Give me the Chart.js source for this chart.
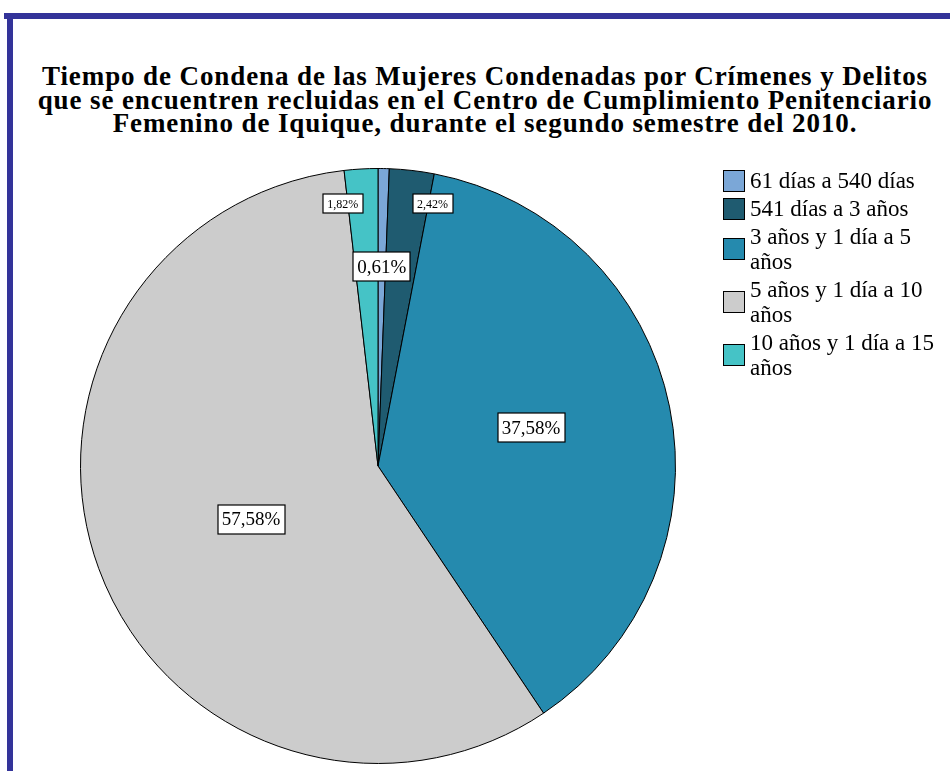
<!DOCTYPE html>
<html>
<head>
<meta charset="utf-8">
<script src="https://cdn.jsdelivr.net/npm/chart.js@4"></script>
<style>
  body { margin: 0; background: #fff; }
  #wrap { position: relative; width: 950px; height: 771px; overflow: hidden; }
  #frameTop { position: absolute; left: 4px; top: 13px; width: 946px; height: 6px; background: #333399; }
  #frameLeft { position: absolute; left: 7px; top: 13px; width: 6px; height: 758px; background: #333399; }
  #title { position: absolute; left: 0; top: 65px; width: 970px; text-align: center;
    font: bold 27px "Liberation Serif", serif; letter-spacing: 0.9px; line-height: 23.5px; color: #000; }
  #legend { position: absolute; left: 723px; top: 168px; font: 23px "Liberation Serif", serif; color: #000; }
  .item { display: flex; align-items: center; margin-bottom: 3px; }
  .box { width: 20px; height: 20px; border: 1px solid #000; flex: none; margin-right: 5px; }
  .txt { width: 190px; line-height: 25px; }
  canvas { position: absolute; left: 0; top: 0; }
</style>
</head>
<body>
<div id="wrap">
  <div id="frameTop"></div>
  <div id="frameLeft"></div>
  <div id="title">Tiempo de Condena de las Mujeres Condenadas por Crímenes y Delitos<br>que se encuentren recluidas en el Centro de Cumplimiento Penitenciario<br>Femenino de Iquique, durante el segundo semestre del 2010.</div>
  <canvas id="pie" width="950" height="771"></canvas>
  <div id="legend"></div>
</div>
<script>
// categories and counts (n = 165)
const categories = ["61 días a 540 días", "541 días a 3 años", "3 años y 1 día a 5 años", "5 años y 1 día a 10 años", "10 años y 1 día a 15 años"];
const counts = [1, 4, 62, 95, 3];
const percentLabels = ["0,61%", "2,42%", "37,58%", "57,58%", "1,82%"];
const colors = ["#7ba7d7", "#1f5b70", "#258aae", "#cccccc", "#45c3c6"];

// label placement: radial fraction, font size, pixel nudge
const labelRadius = [0.67, 0.9, 0.525, 0.462, 0.9];
const labelFont = [19, 12, 19, 19, 12];
const labelNudge = [[0, 0], [24, 4], [0, -7], [2, 6], [-20, 5]];

// legend
const legend = document.getElementById("legend");
categories.forEach((c, i) => {
  const row = document.createElement("div");
  row.className = "item";
  row.innerHTML = '<div class="box" style="background:' + colors[i] + '"></div><div class="txt">' + c + '</div>';
  legend.appendChild(row);
});

const boxLabels = {
  id: "boxLabels",
  afterDatasetsDraw(chart) {
    const ctx = chart.ctx;
    const meta = chart.getDatasetMeta(0);
    meta.data.forEach((arc, i) => {
      const p = arc.getProps(["x", "y", "startAngle", "endAngle", "outerRadius"], true);
      const mid = (p.startAngle + p.endAngle) / 2;
      const r = p.outerRadius * labelRadius[i];
      const x = p.x + Math.cos(mid) * r + labelNudge[i][0];
      const y = p.y + Math.sin(mid) * r + labelNudge[i][1];
      const fs = labelFont[i];
      ctx.save();
      ctx.font = fs + 'px "Liberation Serif", serif';
      const w = ctx.measureText(percentLabels[i]).width + (fs > 14 ? 8 : 9);
      const h = Math.round(fs * 1.55);
      ctx.fillStyle = "#fff";
      ctx.strokeStyle = "#000";
      ctx.lineWidth = 1.2;
      ctx.fillRect(Math.round(x - w / 2), Math.round(y - h / 2), Math.round(w), h);
      ctx.strokeRect(Math.round(x - w / 2), Math.round(y - h / 2), Math.round(w), h);
      ctx.fillStyle = "#000";
      ctx.textAlign = "center";
      ctx.textBaseline = "middle";
      ctx.fillText(percentLabels[i], x, y + 1);
      ctx.restore();
    });
  }
};

function draw() {
  new Chart(document.getElementById("pie"), {
    type: "pie",
    data: {
      labels: categories,
      datasets: [{
        data: counts,
        backgroundColor: colors,
        borderColor: "#000",
        borderWidth: 1
      }]
    },
    options: {
      responsive: false,
      animation: false,
      layout: { padding: { left: 80, right: 274, top: 168, bottom: 7 } },
      plugins: {
        legend: { display: false },
        tooltip: { enabled: false }
      }
    },
    plugins: [boxLabels]
  });
}
document.fonts.load('19px "Liberation Serif"').then(draw, draw);
</script>
</body>
</html>
